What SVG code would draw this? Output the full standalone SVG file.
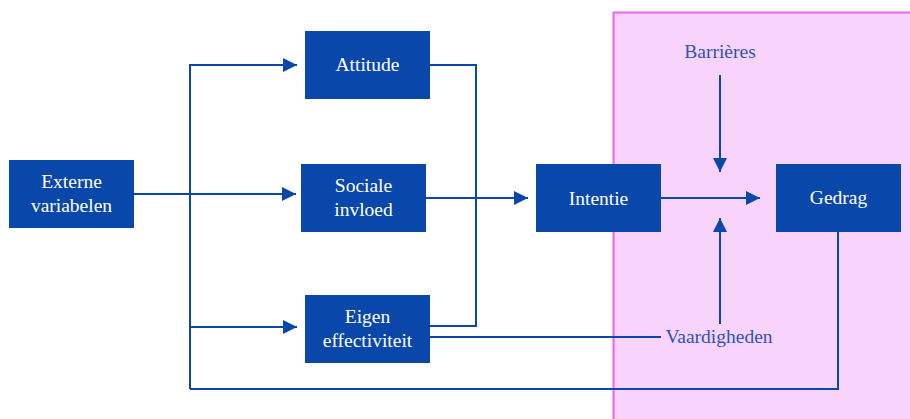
<svg xmlns="http://www.w3.org/2000/svg" width="910" height="419" viewBox="0 0 910 419">
<style>
.box{fill:#0a47ab;}
.t{font-family:"Liberation Serif","DejaVu Serif",serif;font-size:19.5px;fill:#ffffff;text-anchor:middle;}
.l{font-family:"Liberation Serif","DejaVu Serif",serif;font-size:19.5px;fill:#2f54b8;text-anchor:middle;}
.c{fill:none;stroke:#0a47ab;stroke-width:2;}
</style>
<defs>
<marker id="ah" viewBox="0 0 10 10" refX="10" refY="5" markerWidth="7" markerHeight="8" markerUnits="strokeWidth" orient="auto">
<path d="M0,0 L10,5 L0,10 Z" fill="#0a47ab"/>
</marker>
</defs>
<rect x="613.5" y="12.5" width="300" height="410" fill="#f8d3fb" stroke="#ee62ee" stroke-width="2"/>
<g id="connectors">
<path class="c" d="M134,194 H296" marker-end="url(#ah)"/>
<path class="c" d="M190,389 V65 H297" marker-end="url(#ah)"/>
<path class="c" d="M190,327 H297" marker-end="url(#ah)"/>
<path class="c" d="M430,65 H476 V326 H430"/>
<path class="c" d="M426,198 H528" marker-end="url(#ah)"/>
<path class="c" d="M661,198 H760" marker-end="url(#ah)"/>
<path class="c" d="M720,75 V172" marker-end="url(#ah)"/>
<path class="c" d="M720,324 V218" marker-end="url(#ah)"/>
<path class="c" d="M430,337 H661"/>
<path class="c" d="M838,232 V389 H190"/>
</g>
<g id="externe">
<rect class="box" x="9" y="160" width="125" height="68"/>
<text class="t" x="71.5" y="188">Externe</text>
<text class="t" x="71.5" y="212">variabelen</text>
</g>
<g id="attitude">
<rect class="box" x="305" y="31" width="125" height="68"/>
<text class="t" x="367.5" y="71">Attitude</text>
</g>
<g id="sociale">
<rect class="box" x="301" y="164" width="125" height="68"/>
<text class="t" x="363.5" y="192">Sociale</text>
<text class="t" x="363.5" y="216">invloed</text>
</g>
<g id="eigen">
<rect class="box" x="305" y="295" width="125" height="68"/>
<text class="t" x="367.5" y="323">Eigen</text>
<text class="t" x="367.5" y="347">effectiviteit</text>
</g>
<g id="intentie">
<rect class="box" x="536" y="164" width="125" height="68"/>
<text class="t" x="598.5" y="205">Intentie</text>
</g>
<g id="gedrag">
<rect class="box" x="776" y="164" width="125" height="68"/>
<text class="t" x="838.5" y="204">Gedrag</text>
</g>
<g id="barrieres">
<text class="l" x="720" y="58">Barrières</text>
</g>
<g id="vaardigheden">
<text class="l" x="719" y="343">Vaardigheden</text>
</g>
</svg>
